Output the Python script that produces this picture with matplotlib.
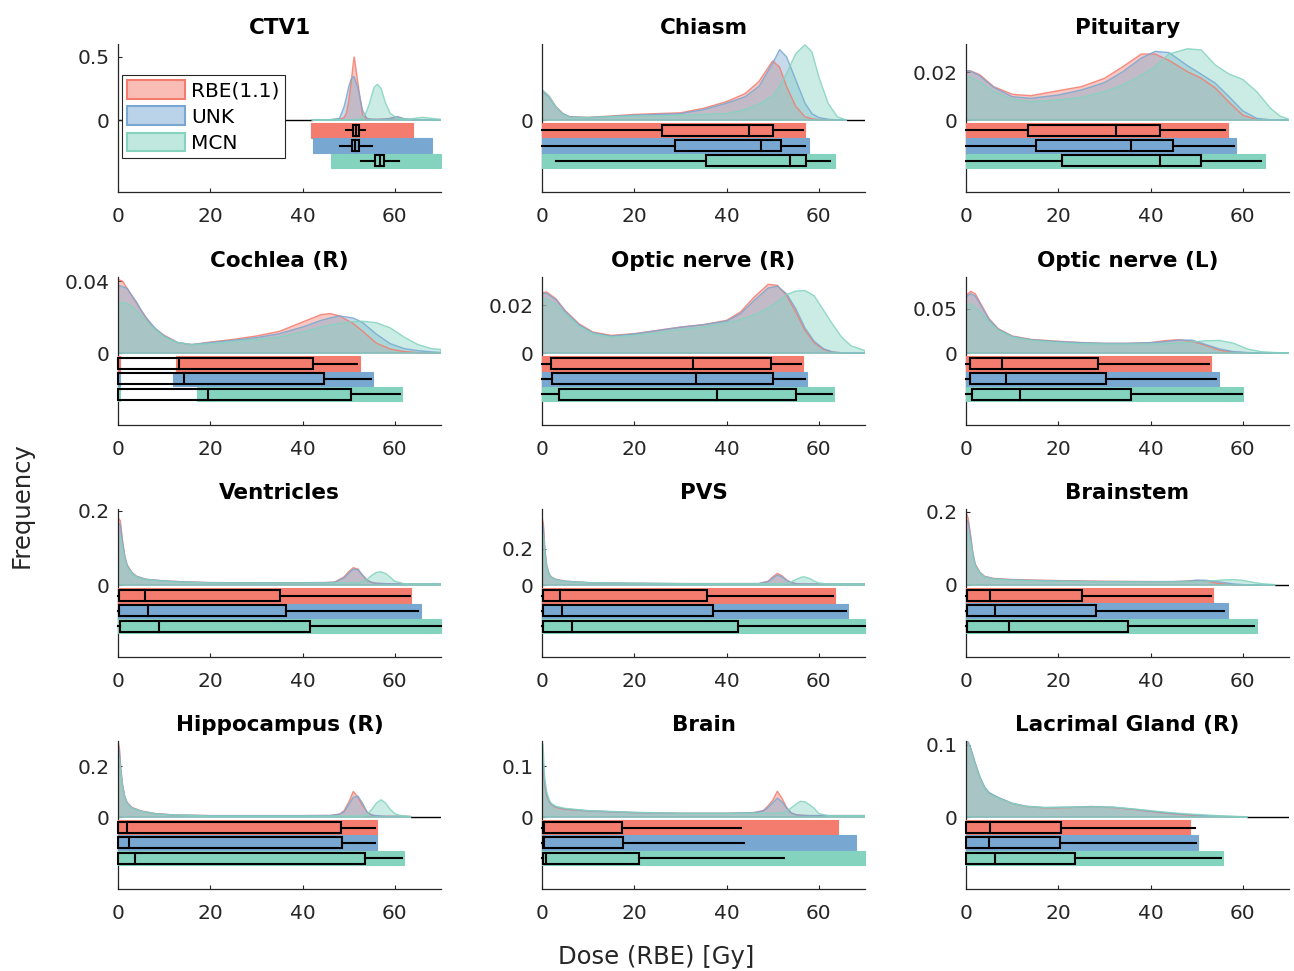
import matplotlib
matplotlib.use("Agg")
import matplotlib.pyplot as plt
from matplotlib.patches import Patch, Rectangle, Polygon

# ---------------------------------------------------------------- data
GROUPS = ["RBE(1.1)", "UNK", "MCN"]
COLORS = ["#F47C6E", "#78A8D2", "#84D3BF"]

ORGANS = ["CTV1", "Chiasm", "Pituitary",
          "Cochlea (R)", "Optic nerve (R)", "Optic nerve (L)",
          "Ventricles", "PVS", "Brainstem",
          "Hippocampus (R)", "Brain", "Lacrimal Gland (R)"]

# upper y limit of each panel and its positive y tick (None = only 0)
Y_TOP = [0.60, 0.095, 0.0319, 0.0424, 0.0319, 0.0857,
         0.205, 0.42, 0.208, 0.30, 0.15, 0.1055]
Y_TICK = [0.5, None, 0.02, 0.04, 0.02, 0.05,
          0.2, 0.2, 0.2, 0.2, 0.1, 0.1]
X_TICKS = [0, 20, 40, 60]

# kernel density estimates (dose grid + one curve per model)
CTV1_X = [42, 46, 48, 49, 49.5, 50, 50.5, 51, 51.2, 52, 53, 53.5, 54, 54.5,
          55.5, 56.2, 57, 58, 59, 60.5, 62, 63, 64, 66, 68, 70]
CTV1_RBE = [0, 0.001, 0.005, 0.02, 0.053, 0.15, 0.29, 0.45, 0.5, 0.29, 0.039,
            0.02, 0.008, 0.006, 0.005, 0.005, 0.006, 0.008, 0.013, 0.026,
            0.008, 0.004, 0, 0, 0, 0]
CTV1_UNK = [0, 0.003, 0.013, 0.105, 0.18, 0.263, 0.32, 0.342, 0.34, 0.25,
            0.079, 0.04, 0.013, 0.008, 0.005, 0.005, 0.006, 0.008, 0.011,
            0.026, 0.011, 0.006, 0.004, 0.002, 0, 0]
CTV1_MCN = [0, 0, 0.001, 0.002, 0.002, 0.003, 0.003, 0.004, 0.004, 0.005,
            0.02, 0.039, 0.08, 0.132, 0.258, 0.282, 0.25, 0.132, 0.053, 0.013,
            0.008, 0.008, 0.012, 0.021, 0.013, 0.005]

CHIASM_X = [0, 1.5, 3, 4.5, 6, 10, 15, 20, 25, 30, 35, 40, 44, 47, 50, 51.5,
            53, 55, 57, 58.5, 60, 62, 64, 66]
CHIASM_RBE = [0.0375, 0.03, 0.017, 0.008, 0.004, 0.0033, 0.005, 0.007, 0.008,
              0.009, 0.0146, 0.023, 0.033, 0.048, 0.074, 0.066, 0.042, 0.017,
              0.004, 0.0015, 0.0005, 0, 0, 0]
CHIASM_UNK = [0.036, 0.029, 0.016, 0.008, 0.004, 0.003, 0.0045, 0.006, 0.007,
              0.008, 0.013, 0.021, 0.029, 0.042, 0.071, 0.088, 0.079, 0.05,
              0.021, 0.008, 0.003, 0.001, 0, 0]
CHIASM_MCN = [0.038, 0.03, 0.016, 0.007, 0.003, 0.003, 0.004, 0.005, 0.005,
              0.006, 0.007, 0.008, 0.013, 0.02, 0.03, 0.042, 0.058, 0.083,
              0.094, 0.085, 0.054, 0.021, 0.004, 0]

PITUITARY_X = [0, 1, 3, 6, 10, 14, 20, 25, 30, 34, 38, 41, 44, 48, 51, 54, 57,
               60, 63, 66, 68, 70]
PITUITARY_RBE = [0.0207, 0.0206, 0.019, 0.014, 0.0108, 0.0102, 0.0123, 0.014,
                 0.0175, 0.0224, 0.0277, 0.0277, 0.025, 0.0203, 0.0175,
                 0.0135, 0.0075, 0.002, 0.0002, 0, 0, 0]
PITUITARY_UNK = [0.0207, 0.0205, 0.0185, 0.0137, 0.0098, 0.0091, 0.0105,
                 0.0126, 0.0157, 0.0203, 0.026, 0.0288, 0.0283, 0.0228,
                 0.0192, 0.0155, 0.0098, 0.0038, 0.0007, 0.0001, 0, 0]
PITUITARY_MCN = [0.0182, 0.018, 0.016, 0.0119, 0.0087, 0.0077, 0.0084, 0.0095,
                 0.0119, 0.0147, 0.0188, 0.0225, 0.0277, 0.0299, 0.0294,
                 0.0231, 0.0193, 0.017, 0.0119, 0.0049, 0.0017, 0.0003]

COCHLEA_X = [0, 1, 2, 3, 4, 5, 6, 7, 8, 10, 13, 16, 20, 25, 30, 35, 40, 44, 46,
             48, 51, 53, 56, 59, 62, 65, 68, 70]
COCHLEA_RBE = [0.0411, 0.04, 0.036, 0.032, 0.028, 0.0238, 0.02, 0.0164,
               0.0135, 0.0099, 0.0058, 0.0047, 0.0061, 0.0076, 0.0095, 0.0121,
               0.0173, 0.0214, 0.022, 0.0207, 0.0164, 0.0122, 0.0055, 0.0022,
               0.0008, 0.0002, 0, 0]
COCHLEA_UNK = [0.0378, 0.037, 0.036, 0.032, 0.0285, 0.024, 0.0201, 0.017,
               0.014, 0.0095, 0.0058, 0.0047, 0.0058, 0.0071, 0.0086, 0.0108,
               0.0145, 0.0182, 0.0196, 0.0207, 0.0195, 0.017, 0.0105, 0.0052,
               0.0025, 0.0013, 0.0006, 0.0003]
COCHLEA_MCN = [0.0288, 0.028, 0.0275, 0.026, 0.0238, 0.021, 0.0182, 0.0157,
               0.0132, 0.0089, 0.0058, 0.0047, 0.0052, 0.0065, 0.0076, 0.0089,
               0.0117, 0.0145, 0.0157, 0.0165, 0.0175, 0.0177, 0.0169, 0.014,
               0.0089, 0.0047, 0.0024, 0.002]

OPTIC_R_X = [0, 1, 3, 5, 8, 11, 15, 20, 25, 30, 35, 40, 43, 46, 49, 51, 53, 55,
             57, 59, 61, 63, 65, 67, 70]
OPTIC_R_RBE = [0.0253, 0.0256, 0.0228, 0.0179, 0.0123, 0.0088, 0.0074, 0.0081,
               0.0095, 0.0109, 0.0119, 0.0137, 0.0172, 0.0235, 0.0288, 0.0284,
               0.0242, 0.0172, 0.0095, 0.0043, 0.0015, 0.0004, 0, 0, 0]
OPTIC_R_UNK = [0.0249, 0.025, 0.0224, 0.0175, 0.0119, 0.0085, 0.0071, 0.008,
               0.0094, 0.0108, 0.0119, 0.0134, 0.0165, 0.0221, 0.0273, 0.028,
               0.0249, 0.0186, 0.0105, 0.0049, 0.0018, 0.0004, 0.0001, 0, 0]
OPTIC_R_MCN = [0.0228, 0.0228, 0.0203, 0.0165, 0.0113, 0.0081, 0.0067, 0.0074,
               0.0085, 0.0099, 0.0109, 0.0127, 0.014, 0.016, 0.0189, 0.0215,
               0.0245, 0.026, 0.0262, 0.024, 0.018, 0.012, 0.0065, 0.003,
               0.001]

OPTIC_L_X = [0, 1, 2, 3, 5, 7, 10, 14, 20, 25, 30, 35, 40, 43, 46, 49, 52, 55,
             58, 61, 64, 67, 70]
OPTIC_L_RBE = [0.065, 0.0695, 0.0669, 0.0575, 0.0387, 0.0274, 0.0192, 0.0154,
               0.0132, 0.0117, 0.0109, 0.0109, 0.0117, 0.0139, 0.015, 0.0132,
               0.0086, 0.003, 0.0011, 0.0002, 0, 0, 0]
OPTIC_L_UNK = [0.0632, 0.0669, 0.0643, 0.0556, 0.0376, 0.0267, 0.0188, 0.015,
               0.0128, 0.0117, 0.0109, 0.0109, 0.0117, 0.0127, 0.0145, 0.0145,
               0.0095, 0.0045, 0.0015, 0.0005, 0, 0, 0]
OPTIC_L_MCN = [0.0538, 0.0556, 0.0519, 0.047, 0.035, 0.0256, 0.018, 0.0143,
               0.0117, 0.0105, 0.0102, 0.0102, 0.0102, 0.0104, 0.0112, 0.0124,
               0.0138, 0.0141, 0.011, 0.0045, 0.0015, 0.0005, 0.0002]

VENTRICLES_X = [0, 0.5, 1, 1.5, 2, 3, 4, 6, 10, 15, 20, 30, 40, 45, 47, 49, 50,
                51, 52, 53, 54, 55, 56, 57, 58, 59, 60, 62, 64, 70]
VENTRICLES_RBE = [0.182, 0.173, 0.118, 0.077, 0.054, 0.034, 0.024, 0.0155,
                  0.011, 0.0082, 0.0064, 0.006, 0.0062, 0.0065, 0.008, 0.022,
                  0.036, 0.0466, 0.043, 0.026, 0.0128, 0.007, 0.0046, 0.004,
                  0.0035, 0.0033, 0.003, 0.003, 0.003, 0.003]
VENTRICLES_UNK = [0.168, 0.163, 0.113, 0.074, 0.052, 0.033, 0.023, 0.0155,
                  0.011, 0.0082, 0.0064, 0.006, 0.0062, 0.0065, 0.0075, 0.019,
                  0.032, 0.043, 0.041, 0.027, 0.0128, 0.007, 0.0046, 0.004,
                  0.0035, 0.0033, 0.003, 0.003, 0.003, 0.003]
VENTRICLES_MCN = [0.136, 0.131, 0.1, 0.07, 0.049, 0.031, 0.022, 0.0146, 0.01,
                  0.0073, 0.0055, 0.0052, 0.0053, 0.0055, 0.0056, 0.006, 0.006,
                  0.0062, 0.0064, 0.009, 0.0155, 0.026, 0.034, 0.0356, 0.031,
                  0.021, 0.01, 0.0037, 0.003, 0.003]

PVS_X = [0, 0.3, 0.6, 1, 1.5, 2, 3, 5, 10, 20, 30, 40, 47, 49, 50, 51, 52, 53,
         54, 55, 56, 56.5, 57, 58, 59, 60, 62, 70]
PVS_RBE = [0.375, 0.338, 0.206, 0.111, 0.064, 0.045, 0.032, 0.021, 0.013,
           0.0094, 0.0075, 0.0075, 0.0078, 0.021, 0.045, 0.064, 0.051, 0.028,
           0.013, 0.008, 0.0057, 0.0057, 0.0057, 0.0057, 0.0057, 0.0057,
           0.0057, 0.0057]
PVS_UNK = [0.347, 0.319, 0.196, 0.108, 0.062, 0.043, 0.03, 0.021, 0.013,
           0.0094, 0.0075, 0.0075, 0.0078, 0.019, 0.038, 0.055, 0.045, 0.026,
           0.013, 0.008, 0.0057, 0.0057, 0.0057, 0.0057, 0.0057, 0.0057,
           0.0057, 0.0057]
PVS_MCN = [0.3, 0.272, 0.177, 0.102, 0.06, 0.042, 0.028, 0.019, 0.013, 0.0094,
           0.0075, 0.0075, 0.0075, 0.0075, 0.0075, 0.0075, 0.0078, 0.009,
           0.017, 0.03, 0.041, 0.045, 0.044, 0.036, 0.022, 0.011, 0.0057,
           0.0057]

BRAINSTEM_X = [0, 0.5, 1, 1.5, 2, 3, 4, 6, 10, 20, 30, 40, 45, 48, 50, 52, 54,
               56, 58, 60, 62, 64, 67]
BRAINSTEM_RBE = [0.2, 0.181, 0.135, 0.088, 0.057, 0.035, 0.024, 0.018, 0.015,
                 0.012, 0.0103, 0.0093, 0.0093, 0.0103, 0.012, 0.011, 0.0056,
                 0.0025, 0.001, 0, 0, 0, 0]
BRAINSTEM_UNK = [0.181, 0.172, 0.13, 0.085, 0.055, 0.034, 0.023, 0.017, 0.014,
                 0.011, 0.0093, 0.0093, 0.0093, 0.011, 0.0135, 0.013, 0.0095,
                 0.0065, 0.003, 0.0012, 0.0003, 0, 0]
BRAINSTEM_MCN = [0.149, 0.141, 0.116, 0.079, 0.052, 0.032, 0.022, 0.016,
                 0.013, 0.0103, 0.0084, 0.0084, 0.0084, 0.0084, 0.009, 0.0103,
                 0.012, 0.014, 0.015, 0.0125, 0.008, 0.0037, 0.0009]

HIPPO_X = [0, 0.3, 0.6, 1, 1.5, 2, 3, 5, 8, 12, 20, 30, 40, 46, 48, 49, 50, 51,
           52, 53, 54, 55, 56, 57, 58, 59, 60, 61, 62, 63.5]
HIPPO_RBE = [0.298, 0.274, 0.193, 0.126, 0.078, 0.058, 0.038, 0.024, 0.0135,
             0.0081, 0.0054, 0.0054, 0.0054, 0.006, 0.011, 0.025, 0.058, 0.101,
             0.078, 0.045, 0.02, 0.0068, 0.004, 0.003, 0.0027, 0.0027, 0.0027,
             0.0027, 0.0027, 0.002]
HIPPO_UNK = [0.281, 0.261, 0.186, 0.123, 0.076, 0.055, 0.036, 0.023, 0.0135,
             0.0081, 0.0054, 0.0054, 0.0054, 0.006, 0.011, 0.02, 0.05, 0.078,
             0.082, 0.055, 0.0176, 0.008, 0.0054, 0.004, 0.0027, 0.0027,
             0.0027, 0.0027, 0.0027, 0.002]
HIPPO_MCN = [0.247, 0.227, 0.173, 0.119, 0.074, 0.054, 0.035, 0.022, 0.012,
             0.0081, 0.004, 0.004, 0.004, 0.004, 0.004, 0.004, 0.004, 0.0042,
             0.0045, 0.005, 0.011, 0.03, 0.055, 0.068, 0.055, 0.03, 0.0135,
             0.007, 0.004, 0]

BRAIN_X = [0, 0.2, 0.6, 1, 1.5, 2, 3, 5, 10, 20, 30, 40, 46, 48, 49, 50, 51, 52,
           53, 54, 55, 56, 57, 58, 59, 60, 62, 70]
BRAIN_RBE = [0.11, 0.104, 0.063, 0.043, 0.031, 0.025, 0.019, 0.015, 0.012,
             0.0087, 0.0073, 0.0073, 0.0087, 0.013, 0.022, 0.033, 0.051, 0.037,
             0.019, 0.008, 0.0047, 0.0035, 0.003, 0.0027, 0.0027, 0.0027,
             0.0027, 0.0027]
BRAIN_UNK = [0.117, 0.11, 0.067, 0.045, 0.032, 0.025, 0.02, 0.016, 0.012,
             0.0087, 0.0073, 0.0073, 0.0087, 0.012, 0.019, 0.028, 0.037, 0.03,
             0.018, 0.008, 0.0047, 0.0035, 0.003, 0.0027, 0.0027, 0.0027,
             0.0027, 0.0027]
BRAIN_MCN = [0.147, 0.143, 0.077, 0.05, 0.035, 0.027, 0.021, 0.017, 0.0127,
             0.0093, 0.0073, 0.0073, 0.0073, 0.0073, 0.0073, 0.0073, 0.0075,
             0.008, 0.011, 0.018, 0.025, 0.031, 0.03, 0.024, 0.017, 0.0067,
             0.0027, 0.0027]

LACRIMAL_X = [0, 0.5, 1, 2, 3, 4, 5, 7, 10, 13, 17, 22, 27, 32, 37, 42, 47, 52,
              56, 60, 61]
LACRIMAL_RBE = [0.105, 0.102, 0.095, 0.074, 0.055, 0.041, 0.033, 0.027, 0.019,
                0.0146, 0.0127, 0.0131, 0.014, 0.0131, 0.0099, 0.0061, 0.0033,
                0.0014, 0.0005, 0, 0]
LACRIMAL_UNK = [0.106, 0.104, 0.096, 0.075, 0.056, 0.042, 0.034, 0.027, 0.019,
                0.015, 0.0131, 0.0136, 0.0146, 0.0136, 0.0103, 0.0066, 0.0038,
                0.0019, 0.0009, 0.0002, 0]
LACRIMAL_MCN = [0.102, 0.101, 0.093, 0.072, 0.054, 0.04, 0.032, 0.026, 0.0188,
                0.0146, 0.0131, 0.0136, 0.014, 0.0136, 0.0108, 0.0075, 0.0047,
                0.0028, 0.0014, 0.0005, 0]

# box-plot summaries per organ: [whisker low, Q1, median, Q3, whisker high]
BOX_RBE = [[49.5, 50.9, 51.5, 52.2, 53.6], [0, 25.9, 44.9, 50.1, 56.5],
           [0, 13.5, 32.6, 42.0, 56.2], [0, 0, 13.2, 42.2, 51.9],
           [0, 2.0, 32.8, 49.6, 56.2], [0, 0.8, 7.8, 28.7, 52.6],
           [0, 0.2, 5.8, 35.1, 63.3], [0, 0.2, 4.0, 35.7, 63.1],
           [0, 0.2, 5.1, 25.2, 53.1], [0, 0.1, 2.0, 48.4, 55.6],
           [0, 0.2, 0.4, 17.4, 43.2], [0, 0, 5.1, 20.5, 49.7]]
BOX_UNK = [[48.2, 50.7, 51.4, 52.2, 55.0], [0, 28.8, 47.5, 51.7, 57.1],
           [0, 15.1, 35.7, 44.8, 58.0], [0, 0, 14.4, 44.7, 54.9],
           [0, 2.2, 33.3, 50.1, 56.9], [0, 0.9, 8.6, 30.3, 54.1],
           [0, 0.2, 6.4, 36.4, 65.1], [0, 0.2, 4.3, 37.0, 65.8],
           [0, 0.2, 6.2, 28.1, 56.0], [0, 0.1, 2.3, 48.6, 55.8],
           [0, 0.2, 0.4, 17.6, 43.7], [0, 0, 4.9, 20.3, 49.9]]
BOX_MCN = [[52.6, 55.6, 56.7, 57.7, 60.9], [3.0, 35.5, 53.8, 57.2, 62.5],
           [0, 20.7, 42.0, 50.9, 64.0], [0, 0, 19.4, 50.5, 61.1],
           [0, 3.7, 38.0, 55.1, 62.9], [0, 1.4, 11.8, 35.7, 59.8],
           [0, 0.4, 8.9, 41.7, 70.0], [0, 0.2, 6.4, 42.5, 70.0],
           [0, 0.2, 9.4, 35.0, 62.5], [0, 0.1, 3.6, 53.6, 61.5],
           [0, 0.2, 0.8, 21.1, 52.4], [0, 0, 6.2, 23.6, 55.3]]

# dose ranges covered by the individual data points (rain)
RAIN_RBE = [[(41.8, 64.0)], [(0, 57.1)], [(0, 56.7)], [(0, 0.5), (12.6, 52.4)],
            [(0, 56.6)], [(0, 53.1)], [(0, 63.6)], [(0, 63.6)], [(0, 53.5)],
            [(0, 56.2)], [(0, 64.1)], [(0, 48.5)]]
RAIN_UNK = [[(42.2, 68.0)], [(0, 57.8)], [(0, 58.5)], [(0, 0.5), (12.0, 55.3)],
            [(0, 57.5)], [(0, 54.8)], [(0, 65.7)], [(0, 66.3)], [(0, 56.7)],
            [(0, 56.2)], [(0, 68.0)], [(0, 50.3)]]
RAIN_MCN = [[(46.2, 70.0)], [(0, 63.4)], [(0, 64.7)], [(0, 0.5), (17.1, 61.5)],
            [(0, 63.3)], [(0, 60.1)], [(0, 70.0)], [(0, 70.0)], [(0, 63.0)],
            [(0, 62.0)], [(0, 70.0)], [(0, 55.7)]]

DENSITIES = [
    (CTV1_X, [CTV1_RBE, CTV1_UNK, CTV1_MCN]),
    (CHIASM_X, [CHIASM_RBE, CHIASM_UNK, CHIASM_MCN]),
    (PITUITARY_X, [PITUITARY_RBE, PITUITARY_UNK, PITUITARY_MCN]),
    (COCHLEA_X, [COCHLEA_RBE, COCHLEA_UNK, COCHLEA_MCN]),
    (OPTIC_R_X, [OPTIC_R_RBE, OPTIC_R_UNK, OPTIC_R_MCN]),
    (OPTIC_L_X, [OPTIC_L_RBE, OPTIC_L_UNK, OPTIC_L_MCN]),
    (VENTRICLES_X, [VENTRICLES_RBE, VENTRICLES_UNK, VENTRICLES_MCN]),
    (PVS_X, [PVS_RBE, PVS_UNK, PVS_MCN]),
    (BRAINSTEM_X, [BRAINSTEM_RBE, BRAINSTEM_UNK, BRAINSTEM_MCN]),
    (HIPPO_X, [HIPPO_RBE, HIPPO_UNK, HIPPO_MCN]),
    (BRAIN_X, [BRAIN_RBE, BRAIN_UNK, BRAIN_MCN]),
    (LACRIMAL_X, [LACRIMAL_RBE, LACRIMAL_UNK, LACRIMAL_MCN]),
]
BOXES = [BOX_RBE, BOX_UNK, BOX_MCN]
RAINS = [RAIN_RBE, RAIN_UNK, RAIN_MCN]

# ---------------------------------------------------------------- layout
W, H = 1294, 971
COL_LEFT = [118, 542, 966]
ROW_TOP = [44, 277, 509, 741]
AX_W, AX_H = 323, 148
ZERO_FROM_TOP = 76            # pixel distance from top of axes to y = 0
RAIN_CENTER = [10.5, 25.8, 41.0]   # pixel offsets below y = 0
RAIN_HALF = 7.3
BOX_HALF = 5.5
XMAX = 70
AXIS_GREY = "#262626"

plt.rcParams["font.family"] = "DejaVu Sans"

fig = plt.figure(figsize=(W / 100, H / 100), dpi=100)

for k, organ in enumerate(ORGANS):
    r, c = divmod(k, 3)
    ax = fig.add_axes([COL_LEFT[c] / W, 1 - (ROW_TOP[r] + AX_H) / H,
                       AX_W / W, AX_H / H])
    ytop = Y_TOP[k]
    ybot = -ytop * (AX_H - ZERO_FROM_TOP) / ZERO_FROM_TOP
    ax.set_xlim(0, XMAX)
    ax.set_ylim(ybot, ytop)
    px = (ytop - ybot) / AX_H

    xs, curves = DENSITIES[k]
    # baseline where no density is drawn
    if xs[0] > 0:
        ax.plot([0, xs[0]], [0, 0], color="black", lw=1.0, zorder=1)
    if xs[-1] < XMAX:
        ax.plot([xs[-1], XMAX], [0, 0], color="black", lw=1.0, zorder=1)

    for g, (ys, col) in enumerate(zip(curves, COLORS)):
        pts = list(zip(xs, ys)) + [(xs[-1], 0), (xs[0], 0)]
        ax.add_patch(Polygon(pts, closed=True, facecolor=col, alpha=0.42,
                             edgecolor="none", zorder=2))
        ax.add_patch(Polygon(pts, closed=True, facecolor="none",
                             edgecolor=col, lw=1.0, alpha=0.85, zorder=2.5))

    for g, col in enumerate(COLORS):
        yc = -RAIN_CENTER[g] * px
        for (a, b) in RAINS[g][k]:
            ax.add_patch(Rectangle((a, yc - RAIN_HALF * px), b - a,
                                   2 * RAIN_HALF * px, facecolor=col,
                                   edgecolor=col, lw=0.8, zorder=3,
                                   clip_on=False))
        wlo, q1, med, q3, whi = BOXES[g][k]
        bh = BOX_HALF * px
        ax.add_patch(Rectangle((q1, yc - bh), q3 - q1, 2 * bh, fill=False,
                               edgecolor="black", lw=1.5, zorder=5,
                               clip_on=False))
        ax.plot([med, med], [yc - bh, yc + bh], color="black", lw=1.5,
                zorder=5, clip_on=False)
        if q1 > wlo:
            ax.plot([wlo, q1], [yc, yc], color="black", lw=1.5, zorder=5,
                    clip_on=False)
        if whi > q3:
            ax.plot([q3, whi], [yc, yc], color="black", lw=1.5, zorder=5,
                    clip_on=False)

    yt = [0] if Y_TICK[k] is None else [0, Y_TICK[k]]
    ax.set_yticks(yt)
    ax.set_yticklabels([f"{v:g}" for v in yt])
    ax.set_xticks(X_TICKS)
    ax.set_xticklabels([str(v) for v in X_TICKS])
    for side in ("top", "right"):
        ax.spines[side].set_visible(False)
    for side in ("left", "bottom"):
        ax.spines[side].set_color(AXIS_GREY)
        ax.spines[side].set_linewidth(0.9)
    ax.tick_params(axis="both", direction="in", length=3, width=0.8,
                   colors=AXIS_GREY, labelsize=14.5)
    ax.tick_params(axis="x", pad=11)
    ax.tick_params(axis="y", pad=6)
    ax.set_title(organ, fontsize=15.5, fontweight="bold", pad=7)
    ax.patch.set_alpha(0)

    if k == 0:
        handles = [Patch(facecolor=col, alpha=0.5, edgecolor=col, lw=1.5)
                   for col in COLORS]
        handles = [Patch(facecolor=(*matplotlib.colors.to_rgb(col), 0.5),
                         edgecolor=col, lw=1.5) for col in COLORS]
        leg = ax.legend(handles, GROUPS, loc="upper left",
                        bbox_to_anchor=(0.012, 0.79), borderaxespad=0,
                        fontsize=14.5, handlelength=2.9, handleheight=1.05,
                        handletextpad=0.3, labelspacing=0.3, borderpad=0.25,
                        fancybox=False, framealpha=1, edgecolor=AXIS_GREY)
        leg.get_frame().set_linewidth(0.8)
        leg.set_zorder(10)

fig.text(22 / W, 1 - 505 / H, "Frequency", rotation=90, ha="center",
         va="center", fontsize=17.5, color=AXIS_GREY)
fig.text(656 / W, 1 - 957 / H, "Dose (RBE) [Gy]", ha="center", va="center",
         fontsize=17.5, color=AXIS_GREY)

fig.savefig("out.png", dpi=100)
